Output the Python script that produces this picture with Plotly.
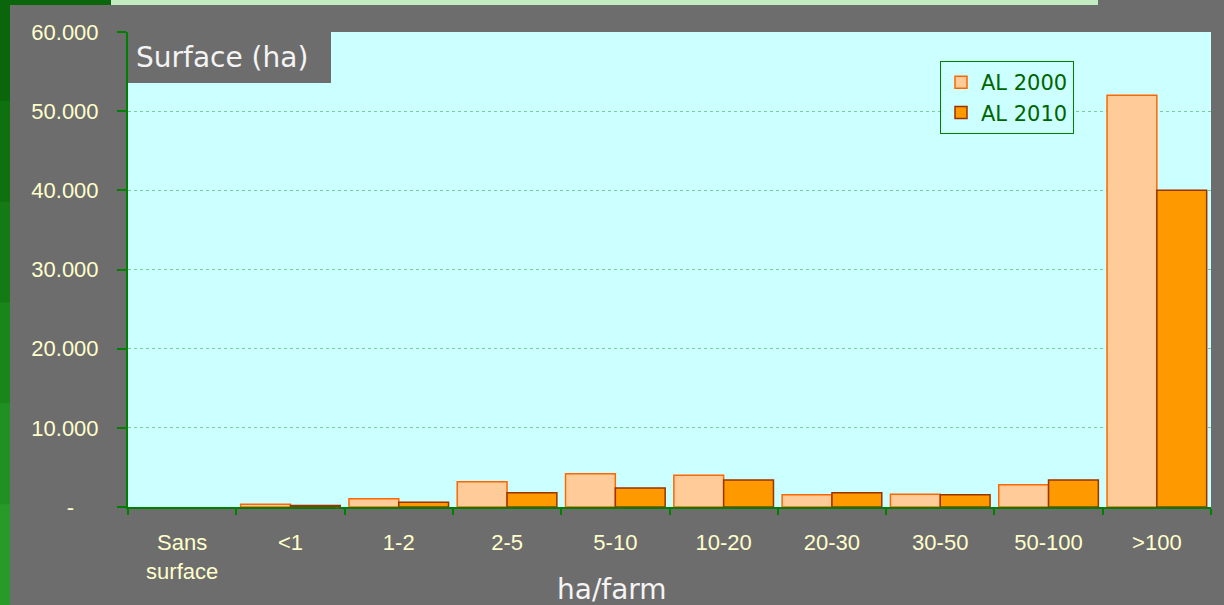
import plotly.graph_objects as go

# data
categories = ["Sans<br>surface", "<1", "1-2", "2-5", "5-10", "10-20", "20-30", "30-50", "50-100", ">100"]
al_2000 = [0, 350, 1050, 3200, 4200, 4000, 1550, 1600, 2800, 52000]
al_2010 = [0, 200, 600, 1800, 2400, 3400, 1800, 1550, 3400, 40000]
y_ticks = [0, 10000, 20000, 30000, 40000, 50000, 60000]
y_tick_text = ["-\u00a0\u00a0\u00a0\u00a0", "10.000", "20.000", "30.000", "40.000", "50.000", "60.000"]

W, H = 1224, 605
L, R, T, B = 128, 1211, 32, 507


def px_x(p):
    return (p - L) / (R - L)


def px_y(p):
    return (B - p) / (B - T)


def drawn(vals):
    # empty classes get no bar at all (no outline sitting on the axis)
    return [v if v else None for v in vals]


fig = go.Figure()
fig.add_trace(go.Bar(
    name="AL 2000", x=categories, y=drawn(al_2000),
    marker=dict(color="#ffcc99", line=dict(color="#ff6600", width=1.5)),
))
fig.add_trace(go.Bar(
    name="AL 2010", x=categories, y=drawn(al_2010),
    marker=dict(color="#ff9900", line=dict(color="#993300", width=1.5)),
))

shapes = []
# left green strip (rough gradient)
greens = ["#0b650b", "#0f700f", "#147b14", "#1a861a", "#219022", "#279a2a"]
step = H / len(greens)
for i, c in enumerate(greens):
    shapes.append(dict(type="rect", xref="paper", yref="paper", layer="above",
                       x0=px_x(0), x1=px_x(10), y0=px_y(i * step), y1=px_y((i + 1) * step + 1),
                       fillcolor=c, line=dict(width=0)))
# top decoration bars
shapes.append(dict(type="rect", xref="paper", yref="paper", layer="above",
                   x0=px_x(0), x1=px_x(111), y0=px_y(0), y1=px_y(5),
                   fillcolor="#0b650b", line=dict(width=0)))
shapes.append(dict(type="rect", xref="paper", yref="paper", layer="above",
                   x0=px_x(111), x1=px_x(1098), y0=px_y(0), y1=px_y(5),
                   fillcolor="#c2ebc2", line=dict(width=0)))
# title box
shapes.append(dict(type="rect", xref="paper", yref="paper", layer="above",
                   x0=0, x1=px_x(331), y0=px_y(83), y1=1,
                   fillcolor="#6d6d6d", line=dict(width=0)))

fig.update_layout(
    width=W, height=H,
    margin=dict(l=L, r=W - R, t=T, b=H - B),
    paper_bgcolor="#6d6d6d",
    plot_bgcolor="#ccffff",
    barmode="group",
    bargap=0.08,
    bargroupgap=0,
    shapes=shapes,
    annotations=[
        dict(text="Surface (ha)", xref="paper", yref="paper",
             x=px_x(134), y=px_y(57), xanchor="left", yanchor="middle",
             showarrow=False, font=dict(family="DejaVu Sans", size=28, color="#f4f4f4")),
        dict(text="ha/farm", xref="paper", yref="paper",
             x=px_x(612), y=px_y(589), xanchor="center", yanchor="middle",
             showarrow=False, font=dict(family="DejaVu Sans", size=28, color="#f4f4f4")),
    ],
    legend=dict(
        x=px_x(940), y=px_y(61), xanchor="left", yanchor="top",
        bgcolor="#ccffff", bordercolor="#008000", borderwidth=1,
        font=dict(family="DejaVu Sans", size=21, color="#006400"),
    ),
)
fig.update_xaxes(
    type="category", tickson="boundaries", ticks="outside", ticklen=6,
    tickwidth=2, tickcolor="#008000", showline=True, linecolor="#008000", linewidth=2,
    tickfont=dict(family="Liberation Sans", size=22, color="#ffffcc"),
    ticklabelstandoff=15,
)
fig.update_yaxes(
    range=[0, 60000], tickvals=y_ticks, ticktext=y_tick_text,
    showgrid=True, gridcolor="#7ccc9a", griddash="dot", gridwidth=1,
    zeroline=False, ticks="outside", ticklen=9, tickwidth=2, tickcolor="#008000",
    showline=True, linecolor="#008000", linewidth=2,
    tickfont=dict(family="Liberation Sans", size=22, color="#ffffcc"),
    ticklabelstandoff=14,
)

# drop the page's default body margin so the figure sits at the window's corner
fig.write_html("out.html", config={"displayModeBar": False},
               post_script="document.body.style.margin='0';")
